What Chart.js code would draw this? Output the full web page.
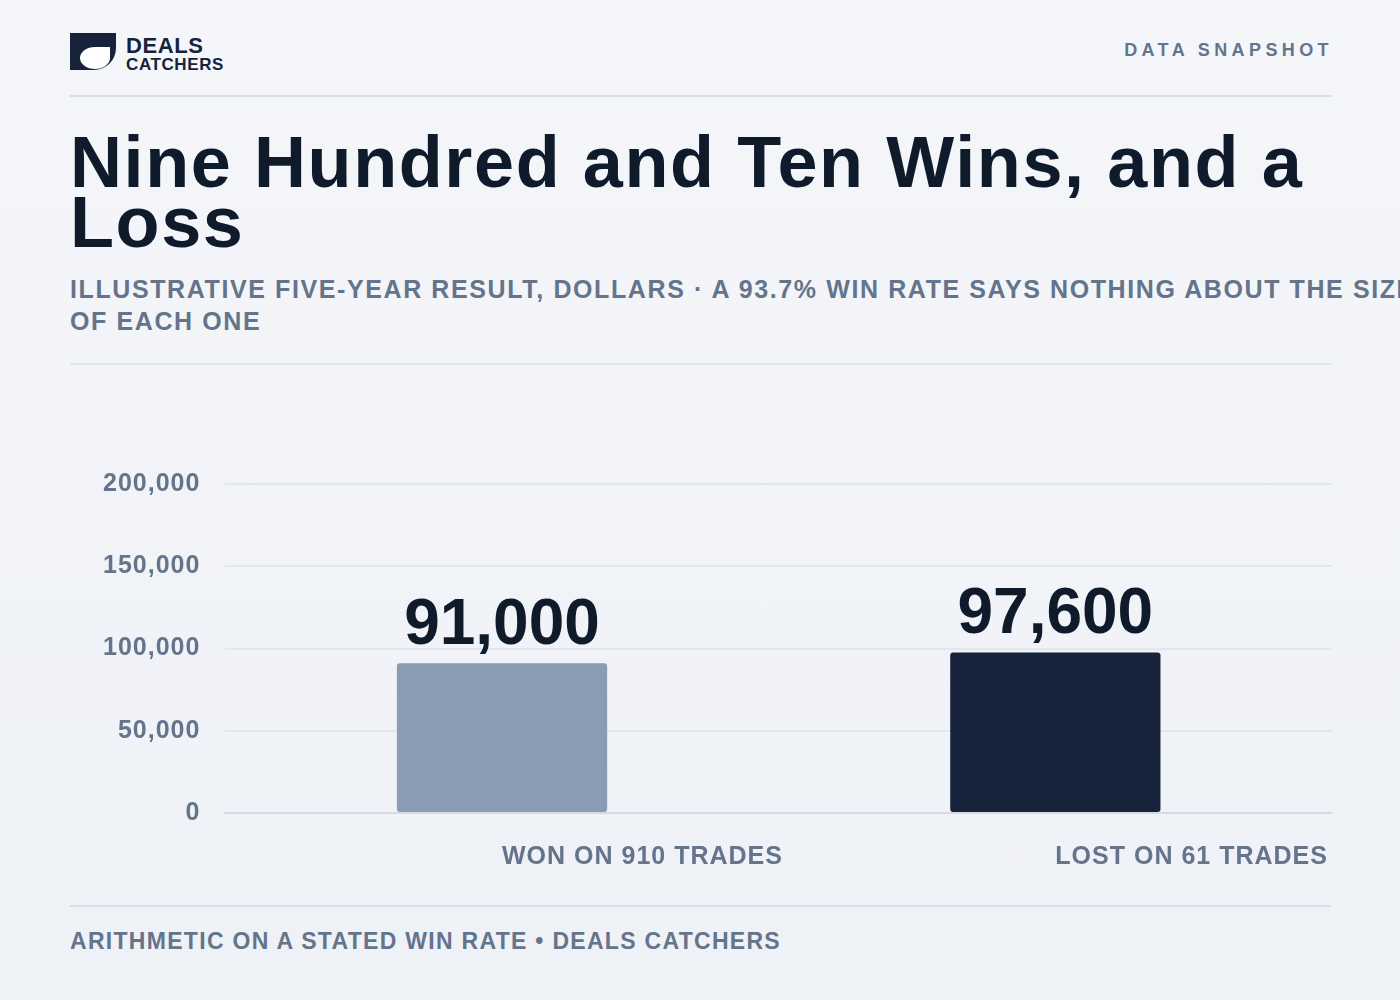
<!DOCTYPE html>
<html><head><meta charset="utf-8">
<script src="https://cdn.jsdelivr.net/npm/chart.js@4"></script>
<style>
html,body{margin:0;padding:0;width:1400px;height:1000px;overflow:hidden;font-family:"Liberation Sans",Arial,sans-serif;background:linear-gradient(180deg,#f5f6fa,#eef1f6);}
.abs{position:absolute;}
#logo{left:70px;top:33px;width:170px;height:40px;}
#logo .mark{position:absolute;left:0;top:0;width:46px;height:37px;background:#16233b;border-radius:0 0 22px 0;}
#logo .mark i{position:absolute;left:10px;top:14px;width:30px;height:22px;background:#fff;border-radius:50% 0 50% 50%;}
#logo .t1{position:absolute;left:56px;top:0px;font-weight:bold;font-size:22px;color:#16233b;letter-spacing:0.6px;}
#logo .t2{position:absolute;left:56px;top:22px;font-weight:bold;font-size:17px;color:#16233b;letter-spacing:0.6px;}
#snap{right:67px;top:40px;font-size:18px;font-weight:bold;letter-spacing:4.4px;color:#64748b;}
.rule{left:70px;width:1261px;height:2px;background:#d8dde6;}
#title{left:70px;top:132px;width:1300px;font-size:72px;font-weight:bold;line-height:60px;color:#0f1a2b;letter-spacing:1.6px;}
#sub{left:70px;top:273px;width:1500px;font-size:25px;font-weight:bold;color:#64748b;line-height:32px;letter-spacing:1.6px;white-space:nowrap;}
#foot{left:70px;top:928px;font-size:23px;font-weight:bold;color:#64748b;letter-spacing:1.3px;}
#wrap{left:70px;top:444px;width:1262px;height:449px;}
</style></head><body>
<div id="logo" class="abs"><div class="mark"><i></i></div><div class="t1">DEALS</div><div class="t2">CATCHERS</div></div>
<div id="snap" class="abs">DATA SNAPSHOT</div>
<div class="abs rule" style="top:95px"></div>
<div id="title" class="abs">Nine Hundred and Ten Wins, and a<br>Loss</div>
<div id="sub" class="abs">ILLUSTRATIVE FIVE-YEAR RESULT, DOLLARS · A 93.7% WIN RATE SAYS NOTHING ABOUT THE SIZE<br>OF EACH ONE</div>
<div class="abs rule" style="top:363px;background:#e2e6ed"></div>
<div id="wrap" class="abs"><canvas id="c"></canvas></div>
<div class="abs rule" style="top:905px"></div>
<div id="foot" class="abs">ARITHMETIC ON A STATED WIN RATE • DEALS CATCHERS</div>
<script>
const categories=["WON ON 910 TRADES","LOST ON 61 TRADES"];
const values=[91000,97600];
const colors=["#8a9bb3","#16233b"];
const tickValues=[0,50000,100000,150000,200000];
const valueLabels={id:'vl',afterDatasetsDraw(ch){const c=ch.ctx;c.save();c.letterSpacing='0px';c.font='bold 64px "Liberation Sans",Arial,sans-serif';c.fillStyle='#0f1a2b';c.textAlign='center';c.textBaseline='alphabetic';
ch.getDatasetMeta(0).data.forEach((b,i)=>{c.fillText(values[i].toLocaleString('en-US'),b.x,b.y-19);});c.restore();}};
new Chart(document.getElementById('c'),{type:'bar',
data:{labels:categories,datasets:[{data:values,backgroundColor:colors,borderRadius:3,borderSkipped:false,barPercentage:0.38,categoryPercentage:1}]},
options:{responsive:true,maintainAspectRatio:false,animation:false,
plugins:{legend:{display:false},tooltip:{enabled:false}},
layout:{padding:{top:0,right:0,left:15}},
scales:{
x:{grid:{display:false},border:{color:'#d5dae3',width:2},ticks:{align:'start',padding:21,color:'#64748b',font:{size:25,weight:'bold',family:'"Liberation Sans",Arial'}}},
y:{min:0,max:200000,border:{display:false},grid:{color:'#e2e6ed',lineWidth:2,drawTicks:false},
afterBuildTicks(a){a.ticks=tickValues.map(v=>({value:v}));},
ticks:{padding:25,color:'#64748b',font:{size:25,weight:'bold',family:'"Liberation Sans",Arial'},callback:v=>v.toLocaleString('en-US')}},
},
},
plugins:[valueLabels,{id:'ls',beforeInit(ch){ch.ctx.letterSpacing='1px';},beforeDraw(ch){ch.ctx.letterSpacing='1px';}}]});
</script></body></html>
